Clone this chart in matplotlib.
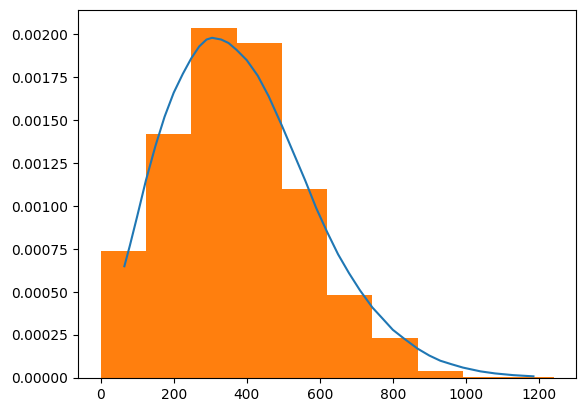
import matplotlib
matplotlib.use("Agg")
import matplotlib.pyplot as plt
import numpy as np

bin_edges = [0, 124, 248, 372, 496, 620, 744, 868, 992, 1116, 1240]
bin_heights = [0.00074, 0.00142, 0.00204, 0.00195, 0.00110, 0.00048, 0.00023, 0.00004, 0.000006, 0.000006]

curve_x = [65, 80, 100, 124, 150, 175, 200, 225, 248, 270, 290, 305, 330, 350, 372, 400, 430,
           460, 496, 530, 560, 590, 620, 650, 680, 710, 744, 770, 800, 830, 868, 900, 930,
           960, 992, 1040, 1080, 1130, 1185]
curve_y = [0.00065, 0.00077, 0.00094, 0.00115, 0.00135, 0.00152, 0.00166, 0.00177, 0.00186, 0.00193, 0.00197, 0.00198, 0.00197, 0.00195, 0.00191, 0.00185, 0.00176,
           0.00164, 0.00147, 0.00130, 0.00115, 0.00099, 0.00085, 0.00072, 0.00061, 0.00051, 0.00041, 0.00035, 0.00028, 0.00023, 0.00017, 0.00013, 0.00010,
           0.00008, 0.00006, 0.000038, 0.000026, 0.000016, 0.000009]

fig, ax = plt.subplots(figsize=(5.82, 4.13), dpi=100)
ax.bar(bin_edges[:-1], bin_heights, width=np.diff(bin_edges), align="edge", color="#ff7f0e")
ax.plot(curve_x, curve_y, color="#1f77b4")
ax.set_ylim(0, 0.00214)
ax.set_xlim(-62, 1302)
ax.yaxis.set_major_formatter(matplotlib.ticker.FormatStrFormatter("%.5f"))
fig.subplots_adjust(left=0.134, right=0.99, top=0.975, bottom=0.085)
fig.savefig("out.png")
